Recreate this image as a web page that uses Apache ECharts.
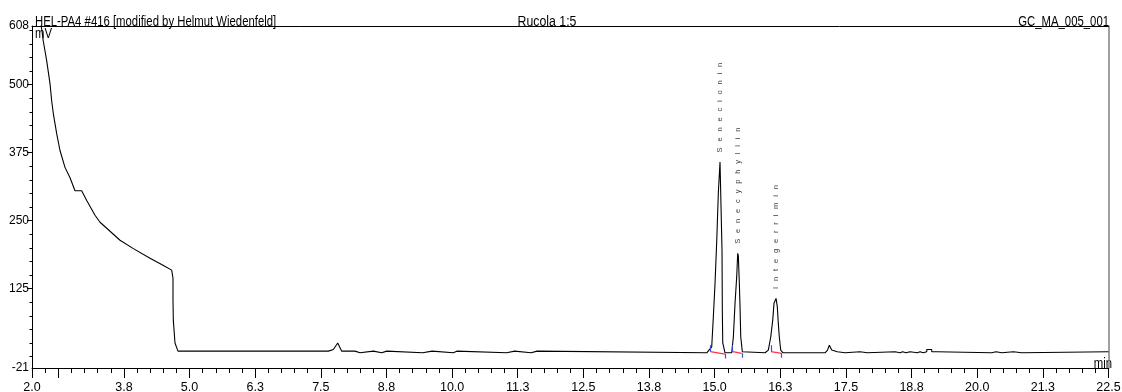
<!DOCTYPE html>
<html>
<head>
<meta charset="utf-8">
<script src="https://cdn.jsdelivr.net/npm/echarts@6/dist/echarts.min.js"></script>
<style>
  html, body { margin: 0; padding: 0; background: #fff; }
  #chart { width: 1122px; height: 392px; }
</style>
</head>
<body>
<div id="chart"></div>
<script>
// Chromatogram trace, read in sections: retention time (min) / detector signal (mV)
const solventTime   = [2.158, 2.19, 2.215, 2.248, 2.28, 2.343, 2.375, 2.406, 2.47, 2.533, 2.628, 2.724, 2.819, 2.946, 3.042, 3.2, 3.295, 3.423, 3.676, 3.923, 4.247, 4.495, 4.66, 4.685, 4.685, 4.691, 4.723, 4.78];
const solventSignal = [617, 599, 580, 562, 544, 502, 470, 447, 410, 379, 348, 329, 305, 305, 287, 260, 247, 236, 214, 199, 181, 168, 159, 144, 104, 67, 25, 10];

const baseTime   = [4.78, 7.643, 7.643, 7.738, 7.822, 7.898, 8.151, 8.151, 8.246, 8.246, 8.5, 8.5, 8.66, 8.66, 8.755, 8.755, 9.44, 9.46, 9.62, 9.642, 10.023, 10.035, 10.09, 10.099, 11.04, 11.055, 11.19, 11.198, 11.503, 11.515, 11.62, 11.631, 14.849, 14.849];
const baseSignal = [10, 10, 13, 13, 25, 10, 10, 7, 7, 10, 10, 7, 7, 10, 10, 7, 7, 10, 10, 7, 7, 10, 10, 7, 7, 10, 10, 7, 7, 10, 10, 7, 7, 10];

const peakTime   = [14.879, 14.944, 14.975, 15.007, 15.04, 15.07, 15.102, 15.127, 15.14, 15.146, 15.154, 15.197, 15.325, 15.356, 15.388, 15.42, 15.439, 15.451, 15.47, 15.483, 15.497, 15.527, 15.55, 15.96, 15.96, 16.022, 16.068, 16.106, 16.13, 16.169, 16.193, 16.212, 16.231, 16.258, 16.302];
const peakSignal = [10, 18, 73, 135, 214, 301, 358, 356, 196, 86, 25, 7, 7, 36, 98, 147, 190, 185, 135, 92, 36, 9, 7, 7, 10, 12, 36, 67, 98, 107, 92, 61, 36, 12, 7];

const tailTime   = [17.102, 17.15, 17.184, 17.229, 17.26, 17.336, 17.336, 17.483, 17.483, 17.768, 17.768, 17.908, 17.908, 18.435, 18.435, 18.53, 18.53, 18.581, 18.581, 18.644, 18.644, 18.721, 18.721, 18.86, 18.86, 18.911, 18.911, 18.974, 18.974, 19.039, 19.039, 19.134, 19.134, 19.229, 19.229, 20.276, 20.276, 20.358, 20.358, 20.467, 20.467, 20.688, 20.688, 20.848, 20.848, 22.5];
const tailSignal = [7, 12, 21, 12, 9, 9, 7, 7, 9, 9, 7, 7, 9, 9, 7, 7, 9, 9, 7, 7, 9, 9, 7, 7, 9, 9, 7, 7, 9, 9, 13, 13, 9, 9, 7, 7, 9, 9, 7, 7, 9, 9, 7, 7, 9, 9];

// Identified peaks (apex time / apex height) and their integration limits
const peakNames   = ['Senecionin', 'Senecyphyllin', 'Integerrimin'];
const apexTime    = [15.102, 15.439, 16.169];
const apexSignal  = [358, 190, 107];
const intStartT   = [14.92, 15.344, 16.073];
const intEndT     = [15.197, 15.516, 16.277];
const intStartV   = [9, 9, 9];
const intEndV     = [4.6, 6, 6];

// Axis ticks and labels
const xLabelValues = [2.0, 3.75, 5.0, 6.25, 7.5, 8.75, 10.0, 11.25, 12.5, 13.75, 15.0, 16.25, 17.5, 18.75, 20.0, 21.25, 22.5];
const xMajorTicks  = [2.0, 2.5, 3.75, 5.0, 6.25, 7.5, 8.75, 10.0, 11.25, 12.5, 13.75, 15.0, 16.25, 17.5, 18.75, 20.0, 21.25, 22.5];
const yLabelValues = [-21, 125, 250, 375, 500, 608];
const yMajorTicks  = [125, 250, 375, 500];

const xMinorTicks = [];
for (let k = 9; k <= 89; k++) xMinorTicks.push(k * 0.25);
const yMinorTicks = [];
for (let k = 0; k <= 24; k++) yMinorTicks.push(k * 25);

const FONT = "'Liberation Sans', Arial, sans-serif";
const NARROW = 0.81;   // horizontal squeeze for the header texts

function zip(a, b) { return a.map((t, i) => [t, b[i]]); }
const trace = [].concat(
  zip(solventTime, solventSignal),
  zip(baseTime, baseSignal),
  zip(peakTime, peakSignal),
  zip(tailTime, tailSignal)
);

const redSegs = intStartT.map((t, i) => ({ coords: [[t, intStartV[i]], [intEndT[i], intEndV[i]]] }));
const blueSegs = [];
intStartT.forEach((t, i) => {
  blueSegs.push({ coords: [[t, intStartV[i]], [t, intStartV[i] + 12]] });
  blueSegs.push({ coords: [[intEndT[i], intEndV[i]], [intEndT[i], intEndV[i] - 8]] });
});
const labelPoints = apexTime.map((t, i) => [t, apexSignal[i], peakNames[i]]);

function spaced(s) { return s.split('').join('\u2002 '); }

function headerText(text, x, y, align, vAlign, squeeze) {
  return {
    type: 'text', silent: true, x: x, y: y, scaleX: squeeze || NARROW, scaleY: 1,
    style: { text: text, x: 0, y: 0, font: '14px ' + FONT, fill: '#000',
             textAlign: align, textVerticalAlign: vAlign, align: align, verticalAlign: vAlign }
  };
}

const xMin = 2, xMax = 22.5, yMin = -21, yMax = 608;

const chart = echarts.init(document.getElementById('chart'), null, { renderer: 'canvas' });
chart.setOption({
  animation: false,
  backgroundColor: '#fff',
  grid: { left: 32, right: 13.5, top: 26, bottom: 24, containLabel: false, outerBoundsMode: 'none' },
  xAxis: [
    {
      type: 'value', min: xMin, max: xMax, position: 'bottom',
      axisLine: { show: true, onZero: false, lineStyle: { color: '#000', width: 1 } },
      axisTick: { show: true, inside: false, length: 5, customValues: xMinorTicks, lineStyle: { color: '#000' } },
      axisLabel: {
        show: true, customValues: xLabelValues, margin: 13,
        formatter: v => v.toFixed(1), color: '#000', fontSize: 12.5, fontFamily: FONT,
        showMinLabel: true, showMaxLabel: true
      },
      splitLine: { show: false }
    },
    {
      type: 'value', min: xMin, max: xMax, position: 'bottom',
      axisLine: { show: false, onZero: false },
      axisTick: { show: true, inside: false, length: 10, customValues: xMajorTicks, lineStyle: { color: '#000' } },
      axisLabel: { show: false },
      splitLine: { show: false }
    },
    {
      type: 'value', min: xMin, max: xMax, position: 'top',
      axisLine: { show: true, onZero: false, lineStyle: { color: '#000', width: 1 } },
      axisTick: { show: false }, axisLabel: { show: false }, splitLine: { show: false }
    }
  ],
  yAxis: [
    {
      type: 'value', min: yMin, max: yMax, position: 'left',
      axisLine: { show: true, onZero: false, lineStyle: { color: '#000', width: 1 } },
      axisTick: { show: true, inside: false, length: 2.5, customValues: yMinorTicks, lineStyle: { color: '#000' } },
      axisLabel: {
        show: true, customValues: yLabelValues, margin: 3,
        color: '#000', fontSize: 12, fontFamily: FONT, showMinLabel: true, showMaxLabel: true
      },
      splitLine: { show: false }
    },
    {
      type: 'value', min: yMin, max: yMax, position: 'left',
      axisLine: { show: false, onZero: false },
      axisTick: { show: true, inside: false, length: 5, customValues: yMajorTicks, lineStyle: { color: '#000' } },
      axisLabel: { show: false }, splitLine: { show: false }
    },
    {
      type: 'value', min: yMin, max: yMax, position: 'right',
      axisLine: { show: true, onZero: false, lineStyle: { color: '#808080', width: 1.5 } },
      axisTick: { show: false }, axisLabel: { show: false }, splitLine: { show: false }
    }
  ],
  series: [
    {
      name: 'Signal', type: 'line', data: trace, xAxisIndex: 0, yAxisIndex: 0,
      symbol: 'none', showSymbol: false, sampling: null, clip: true, z: 3,
      lineStyle: { color: '#000', width: 1.1 }
    },
    {
      name: 'Baseline', type: 'lines', coordinateSystem: 'cartesian2d', xAxisIndex: 0, yAxisIndex: 0,
      data: redSegs, z: 4, lineStyle: { color: '#ff3347', width: 1.2, opacity: 1 }
    },
    {
      name: 'Limits', type: 'lines', coordinateSystem: 'cartesian2d', xAxisIndex: 0, yAxisIndex: 0,
      data: blueSegs, z: 4, lineStyle: { color: '#3a4fd0', width: 1.2, opacity: 1 }
    },
    {
      name: 'Peaks', type: 'scatter', data: labelPoints, xAxisIndex: 0, yAxisIndex: 0,
      symbolSize: 1, itemStyle: { color: 'rgba(0,0,0,0)' }, z: 5,
      label: {
        show: true, position: 'top', distance: 9, rotate: 90,
        align: 'left', verticalAlign: 'middle',
        formatter: p => spaced(p.data[2]),
        color: '#000', fontSize: 7.5, fontFamily: FONT
      }
    }
  ],
  graphic: [
    headerText('HEL-PA4 #416 [modified by Helmut Wiedenfeld]', 35, 29, 'left', 'bottom'),
    headerText('Rucola 1:5', 547, 29, 'center', 'bottom', 0.88),
    headerText('GC_MA_005_001', 1109, 29, 'right', 'bottom'),
    headerText('mV', 35, 27, 'left', 'top'),
    headerText('min', 1112, 371, 'right', 'bottom')
  ]
});
</script>
</body>
</html>
